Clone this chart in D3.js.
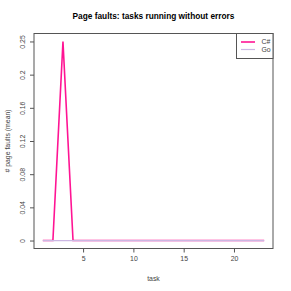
<!DOCTYPE html>
<html>
<head>
<meta charset="utf-8">
<script src="https://cdn.jsdelivr.net/npm/d3@7"></script>
<style>
  body { margin: 0; background: #fff; }
  text { font-family: "Liberation Sans", Arial, sans-serif; }
</style>
</head>
<body>
<svg id="chart" width="291" height="291"></svg>
<script>
// --- data
const tasks = d3.range(1, 24);
const csharp = [0, 0, 0.25, 0, 0, 0, 0, 0, 0, 0, 0, 0, 0, 0, 0, 0, 0, 0, 0, 0, 0, 0, 0];
const golang = [0, 0, 0, 0, 0, 0, 0, 0, 0, 0, 0, 0, 0, 0, 0, 0, 0, 0, 0, 0, 0, 0, 0];
const seriesNames = ['C#', 'Go'];
const seriesColors = ['#FF1493', '#CBB7E3'];
const xTicks = [5, 10, 15, 20];
const yTicks = [0, 0.25 / 6, 0.5 / 6, 0.75 / 6, 1 / 6, 1.25 / 6, 0.25];
const yTickLabels = ['0', '0.04', '0.08', '0.12', '0.16', '0.2', '0.25'];

const svg = d3.select('#chart');
const plot = { left: 34, right: 273, top: 33.5, bottom: 248.5 };
const labelSize = '6.9px';

// R style: data range padded by 4% on each side
function padded(ext) {
    const d = (ext[1] - ext[0]) * 0.04;
    return [ext[0] - d, ext[1] + d];
}

const x = d3.scaleLinear()
    .domain(padded(d3.extent(tasks)))
    .range([plot.left, plot.right]);

const y = d3.scaleLinear()
    .domain(padded([0, d3.max(csharp.concat(golang))]))
    .range([plot.bottom, plot.top]);

// --- box
svg.append('rect')
    .attr('x', plot.left)
    .attr('y', plot.top)
    .attr('width', plot.right - plot.left)
    .attr('height', plot.bottom - plot.top)
    .attr('fill', 'none')
    .attr('stroke', '#555')
    .attr('stroke-width', 1);

// --- axes
const xAxis = svg.append('g')
    .attr('transform', `translate(0, ${plot.bottom})`)
    .call(d3.axisBottom(x).tickValues(xTicks).tickSize(4).tickPadding(4));

const yAxis = svg.append('g')
    .attr('transform', `translate(${plot.left}, 0)`)
    .call(d3.axisLeft(y).tickValues(yTicks).tickSize(4).tickPadding(3)
        .tickFormat((d, i) => yTickLabels[i]));

[xAxis, yAxis].forEach(ax => {
    ax.select('.domain').remove();
    ax.selectAll('line').attr('stroke', '#555');
    ax.selectAll('text')
        .attr('fill', '#444')
        .style('font-size', labelSize)
        .style('font-family', '"Liberation Sans", Arial, sans-serif');
});

// rotated y tick labels like R's las=0
yAxis.selectAll('.tick text')
    .attr('x', null)
    .attr('dy', null)
    .attr('text-anchor', 'middle')
    .attr('transform', 'translate(-9.5, 0) rotate(-90)');

// --- lines
const lineFn = d3.line()
    .x((d, i) => x(tasks[i]))
    .y(d => y(d));

[csharp, golang].forEach((values, idx) => {
    svg.append('path')
        .datum(values)
        .attr('fill', 'none')
        .attr('stroke', seriesColors[idx])
        .attr('stroke-width', idx === 0 ? 1.6 : 1.2)
        .attr('d', lineFn);
});

// --- legend
const legend = svg.append('g');
legend.append('rect')
    .attr('x', 236.5)
    .attr('y', plot.top)
    .attr('width', plot.right - 236.5)
    .attr('height', 25)
    .attr('fill', '#fff')
    .attr('stroke', '#555');

seriesNames.forEach((name, i) => {
    const ly = 42 + i * 7.5;
    legend.append('line')
        .attr('x1', 241).attr('x2', 255)
        .attr('y1', ly).attr('y2', ly)
        .attr('stroke', seriesColors[i])
        .attr('stroke-width', i === 0 ? 1.6 : 1.2);
    legend.append('text')
        .attr('x', 261.5)
        .attr('y', ly)
        .attr('dy', '0.35em')
        .attr('fill', '#444')
        .style('font-size', labelSize)
        .text(name);
});

// --- titles
svg.append('text')
    .attr('x', (plot.left + plot.right) / 2)
    .attr('y', 16.5)
    .attr('dy', '0.35em')
    .attr('text-anchor', 'middle')
    .style('font-size', '8.3px')
    .style('font-weight', 'bold')
    .text('Page faults: tasks running without errors');

svg.append('text')
    .attr('x', (plot.left + plot.right) / 2)
    .attr('y', 279)
    .attr('dy', '0.35em')
    .attr('text-anchor', 'middle')
    .attr('fill', '#444')
    .style('font-size', labelSize)
    .text('task');

svg.append('text')
    .attr('transform', `translate(7.5, ${(plot.top + plot.bottom) / 2}) rotate(-90)`)
    .attr('dy', '0.35em')
    .attr('text-anchor', 'middle')
    .attr('fill', '#444')
    .style('font-size', labelSize)
    .text('# page faults (mean)');
</script>
</body>
</html>
